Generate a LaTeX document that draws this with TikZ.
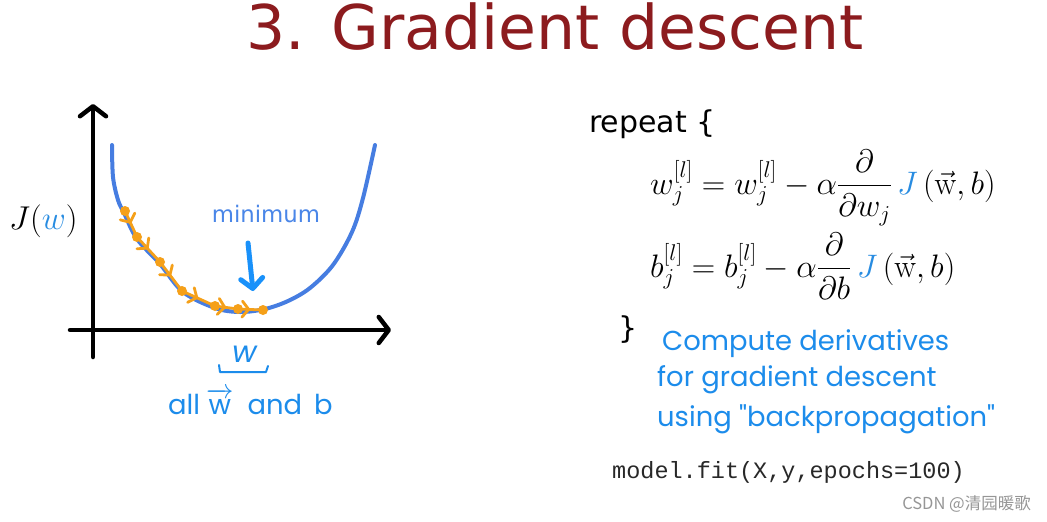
\documentclass[tikz,border=0pt]{standalone}
\usepackage{fix-cm}
\usepackage{amsmath}
\usepackage{fontspec}
\usetikzlibrary{arrows.meta,decorations.markings}
\newfontfamily\titlefont{DejaVu Sans}
\newfontfamily\handfont{Poppins}
\newfontfamily\codefont{Liberation Mono}
\newfontfamily\cjkfont{Noto Sans CJK SC}
\definecolor{titlered}{RGB}{140,27,30}
\definecolor{curveblue}{RGB}{70,125,225}
\definecolor{minblue}{RGB}{74,134,232}
\definecolor{arrowblue}{RGB}{25,145,250}
\definecolor{handblue}{RGB}{28,140,235}
\definecolor{jblue}{RGB}{40,140,225}
\definecolor{steporange}{RGB}{245,160,25}
\definecolor{codegray}{RGB}{40,40,40}
\definecolor{markgray}{RGB}{150,150,150}
\tikzset{
  axisline/.style={line width=4.5pt, black, line cap=round, line join=round,
    -{Straight Barb[length=10pt,width=26pt,line cap=round,line join=round]}},
  costcurve/.style={line width=4pt, curveblue, line cap=round},
  stepseg/.style={line width=2.8pt, steporange, line cap=round,
    postaction={decorate},
    decoration={markings, mark=at position 0.5 with {\arrow[line width=2.8pt]{Straight Barb[length=6.5pt,width=16pt,line cap=round]}}}},
  stepdot/.style={circle, fill=steporange, inner sep=0pt, minimum size=10pt},
  minarrow/.style={line width=5pt, arrowblue, line cap=round,
    -{Straight Barb[length=10pt,width=22pt,line cap=round,line join=round]}},
  handtext/.style={text=handblue, inner sep=0pt, font=\handfont\fontsize{27.4}{32}\selectfont},
  plain/.style={inner sep=0pt},
}
\begin{document}
\begin{tikzpicture}[x=1pt,y=-1pt]
\useasboundingbox (0,0) rectangle (1047,522);
\fill[white] (0,0) rectangle (1047,522);

% title
\node[plain, anchor=base, text=titlered, font=\titlefont\fontsize{61.6}{70}\selectfont] (title) at (555,49) {3. Gradient descent};

% axes
\coordinate (yb) at (93,357);
\coordinate (yt) at (93,104);
\coordinate (xl) at (70,330);
\coordinate (xr) at (391,330);
\draw[axisline] (yb) -- (yt);
\draw[axisline] (xl) -- (xr);

% cost curve
\draw[costcurve] plot[smooth, tension=0.55] coordinates {
  (112,145) (113,177) (118,200) (124,213) (137,239) (160,264) (183,292)
  (215,308) (240,312) (265,309) (288,301) (310,288) (333,265) (352,232)
  (363,198) (375,145)};

% gradient descent steps
\node[stepdot] (d1) at (125,211) {};
\node[stepdot] (d2) at (137,237) {};
\node[stepdot] (d3) at (160,262) {};
\node[stepdot] (d4) at (182,291) {};
\node[stepdot] (d5) at (215,306) {};
\node[stepdot] (d6) at (238,309) {};
\node[stepdot] (d7) at (263,310) {};
\draw[stepseg] (d1.center) -- (d2.center);
\draw[stepseg] (d2.center) -- (d3.center);
\draw[stepseg] (d3.center) -- (d4.center);
\draw[stepseg] (d4.center) -- (d5.center);
\draw[stepseg] (d5.center) -- (d6.center);
\draw[stepseg] (d6.center) -- (d7.center);

% minimum label and arrow
\node[plain, anchor=base, text=minblue, font=\titlefont\fontsize{22.8}{26}\selectfont] (minlabel) at (266,222) {minimum};
\coordinate (ma) at (248,243);
\coordinate (mb) at (253,291);
\draw[minarrow] (ma) -- (mb);

% J(w)
\node[plain, anchor=west, font=\fontsize{33}{38}\selectfont] (jw) at (9,221) {$J(\textcolor{jblue}{w})$};

% w and brace under axis
\node[handtext, anchor=base, font=\handfont\fontsize{30}{34}\selectfont\itshape] (wlab) at (245,362) {w};
\coordinate (br1) at (219,365);
\coordinate (br2) at (220,372);
\coordinate (br3) at (266,372);
\coordinate (br4) at (268,366);
\draw[handblue, line width=2pt, line cap=round, line join=round] (br1) -- (br2) -- (br3) -- (br4);
\node[handtext, anchor=base west] (allw) at (168,414) {all\hspace{6pt}$\overrightarrow{\hbox{\handfont w}}$\hspace{14pt}and\hspace{12pt}b};

% update rules
\node[plain, anchor=base west, font=\titlefont\fontsize{30}{36}\selectfont] (rep) at (589,132) {repeat \{};
\node[plain, anchor=base west, font=\fontsize{32.5}{38}\selectfont] (eq1) at (650,194)
  {$\displaystyle w_j^{[l]} = w_j^{[l]} - \alpha\frac{\partial}{\partial w_j}\,\textcolor{jblue}{J}\,(\vec{\mathrm{w}},b)$};
\node[plain, anchor=base west, font=\fontsize{32.5}{38}\selectfont] (eq2) at (650,277)
  {$\displaystyle b_j^{[l]} = b_j^{[l]} - \alpha\frac{\partial}{\partial b}\,\textcolor{jblue}{J}\,(\vec{\mathrm{w}},b)$};
\node[plain, anchor=base west, font=\titlefont\fontsize{30}{36}\selectfont] (close) at (618,338) {\}};

% handwritten note
\node[handtext, anchor=base west] (note1) at (662,350) {Compute derivatives};
\node[handtext, anchor=base west] (note2) at (657,386) {for gradient descent};
\node[handtext, anchor=base west] (note3) at (657,426) {using "backpropagation"};

% code
\node[plain, anchor=base west, text=codegray, font=\codefont\fontsize{23.5}{28}\selectfont] (code) at (612,478) {model.fit(X,y,epochs=100)};

% watermark
\node[plain, anchor=base east, text=markgray, font=\cjkfont\fontsize{16.5}{20}\selectfont] (mark) at (1031,509) {CSDN @清园暖歌};
\end{tikzpicture}
\end{document}
